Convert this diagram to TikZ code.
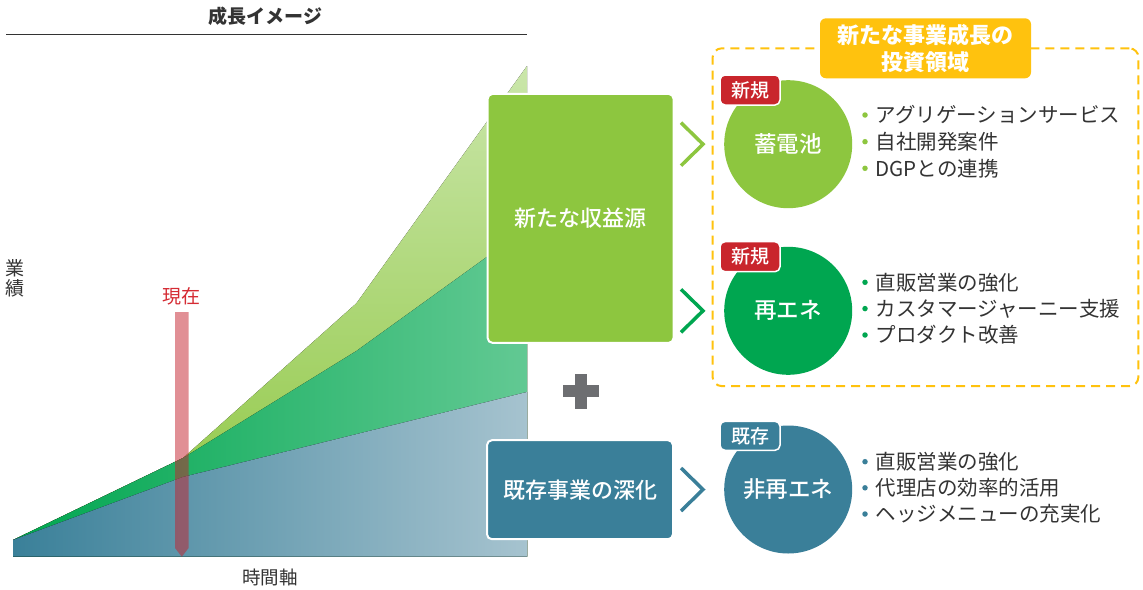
\documentclass[tikz,border=0pt]{standalone}
\usepackage{fontspec}
\setmainfont{Noto Sans CJK JP}
\newfontfamily\jpmed{Noto Sans CJK JP Medium}
\usetikzlibrary{calc}
\definecolor{lg}{HTML}{8DC63F}
\definecolor{lgl}{HTML}{CAE6AA}
\definecolor{dg}{HTML}{00A650}
\definecolor{dgl}{HTML}{62C993}
\definecolor{tl}{HTML}{3A7F99}
\definecolor{tld}{HTML}{3A8099}
\definecolor{tll}{HTML}{A6C3CF}
\definecolor{yel}{HTML}{FFC20E}
\definecolor{tagred}{HTML}{C9252C}
\definecolor{txt}{HTML}{333333}
\definecolor{plusg}{HTML}{6D6E71}
\definecolor{barred}{HTML}{C5212D}
\definecolor{nowred}{HTML}{D52B33}
\begin{document}
\begin{tikzpicture}[x=1pt,y=-1pt,
  lbl/.style={inner sep=0pt, text=txt, font=\fontsize{#1}{#1}\selectfont},
  bigbox/.style={draw=white, line width=2pt, rounded corners=5pt, minimum width=186pt, text=white, font=\jpmed\fontsize{22}{26}\selectfont, inner sep=0pt},
  disc/.style={circle, inner sep=0pt, minimum size=128pt, text=white, font=\jpmed\fontsize{22.5}{26}\selectfont},
  tagbox/.style={draw=white, line width=1.5pt, rounded corners=5pt, minimum width=60pt, minimum height=30pt, inner sep=0pt, text=white, font=\jpmed\fontsize{19}{22}\selectfont},
  chev/.style={line width=3.5pt, line join=miter},
  item/.style={anchor=west, inner sep=0pt, text=txt, font=\fontsize{20.5}{24}\selectfont},
  dot/.style={circle, inner sep=0pt, minimum size=5.5pt},
]
\fill[white] (0,0) rectangle (1143,589);
\useasboundingbox (0,0) rectangle (1143,589);

% title
\node[lbl=19, font=\fontsize{19}{19}\selectfont\bfseries] (title) at (265.6,16.5) {成長イメージ};
\draw[line width=1.3pt, txt] (6,34.4) -- (527,34.4);

% chart areas
\fill[top color=lgl, middle color=lg, bottom color=lg] (13,540) -- (183,458) -- (356.4,303.3) -- (527,66) -- (527,556.7) -- (13,556.7) -- cycle;
\fill[left color=dg, middle color=dg, right color=dgl] (13,540) -- (183,458) -- (356.4,351) -- (527,228) -- (527,556.7) -- (13,556.7) -- cycle;
\fill[left color=tld, right color=tll] (13,540) -- (183,477) -- (527,392) -- (527,556.7) -- (13,556.7) -- cycle;

% now bar
\fill[barred, opacity=0.5] (175,312) -- (188.6,312) -- (188.6,548) -- (181.8,556.7) -- (175,548) -- cycle;
\node[lbl=19, text=nowred] (now) at (181.8,296) {現在};
\node[lbl=19, align=center, font=\fontsize{19}{20}\selectfont] (perf) at (15,278) {業\\績};
\node[lbl=18.5] (time) at (270,577) {時間軸};

% left boxes
\node[bigbox, fill=lg, minimum height=249pt] (rev) at (580.6,218.4) {新たな収益源};
\node[bigbox, fill=tl, minimum height=99pt] (exist) at (580,489.7) {既存事業の深化};
\fill[plusg] (562.5,385) rectangle (598.5,397);
\fill[plusg] (575,373.5) rectangle (587,408.7);

% dashed area
\node[draw=yel, line width=2pt, dash pattern=on 9pt off 6pt, rounded corners=9pt, minimum width=425.8pt, minimum height=337.7pt, inner sep=0pt] (area) at (925.5,217.2) {};
\node[fill=yel, rounded corners=6pt, minimum width=211pt, minimum height=60pt, inner sep=0pt, text=white, align=center, font=\fontsize{22}{26.7}\selectfont\bfseries] (lab) at (925.5,48.3) {新たな事業成長の\\投資領域};

% circles
\node[disc, fill=lg] (bat) at (788.2,144.2) {蓄電池};
\node[disc, fill=dg] (re) at (788.2,310.8) {再エネ};
\node[disc, fill=tl] (nre) at (788.2,489.5) {非再エネ};

% tags
\node[tagbox, fill=tagred] (t1) at (750,90) {新規};
\node[tagbox, fill=tagred] (t2) at (750,256.7) {新規};
\node[tagbox, fill=tl, minimum height=29pt] (t3) at (750,435.8) {既存};

% chevrons
\draw[chev, lg] ($(bat.west)+(-43,-21.5)$) -- ($(bat.west)+(-21,0)$) -- ($(bat.west)+(-43,21.5)$);
\draw[chev, dg] ($(re.west)+(-43,-21.5)$) -- ($(re.west)+(-21,0)$) -- ($(re.west)+(-43,21.5)$);
\draw[chev, tl] ($(nre.west)+(-43,-21.5)$) -- ($(nre.west)+(-21,0)$) -- ($(nre.west)+(-43,21.5)$);

% lists
\node[dot, fill=lg] (b1a) at (865,115) {};
\node[item] (i1a) at (875.4,115) {アグリゲーションサービス};
\node[dot, fill=lg] (b1b) at (865,141.7) {};
\node[item] (i1b) at (875.4,141.7) {自社開発案件};
\node[dot, fill=lg] (b1c) at (865,168.3) {};
\node[item] (i1c) at (875.4,168.3) {DGPとの連携};

\node[dot, fill=dg] (b2a) at (865,282.3) {};
\node[item] (i2a) at (875.4,282.3) {直販営業の強化};
\node[dot, fill=dg] (b2b) at (865,308.6) {};
\node[item] (i2b) at (875.4,308.6) {カスタマージャーニー支援};
\node[dot, fill=dg] (b2c) at (865,335) {};
\node[item] (i2c) at (875.4,335) {プロダクト改善};

\node[dot, fill=tl] (b3a) at (865,461.7) {};
\node[item] (i3a) at (875.4,461.7) {直販営業の強化};
\node[dot, fill=tl] (b3b) at (865,487.8) {};
\node[item] (i3b) at (875.4,487.8) {代理店の効率的活用};
\node[dot, fill=tl] (b3c) at (865,514) {};
\node[item] (i3c) at (875.4,514) {ヘッジメニューの充実化};
\end{tikzpicture}
\end{document}
